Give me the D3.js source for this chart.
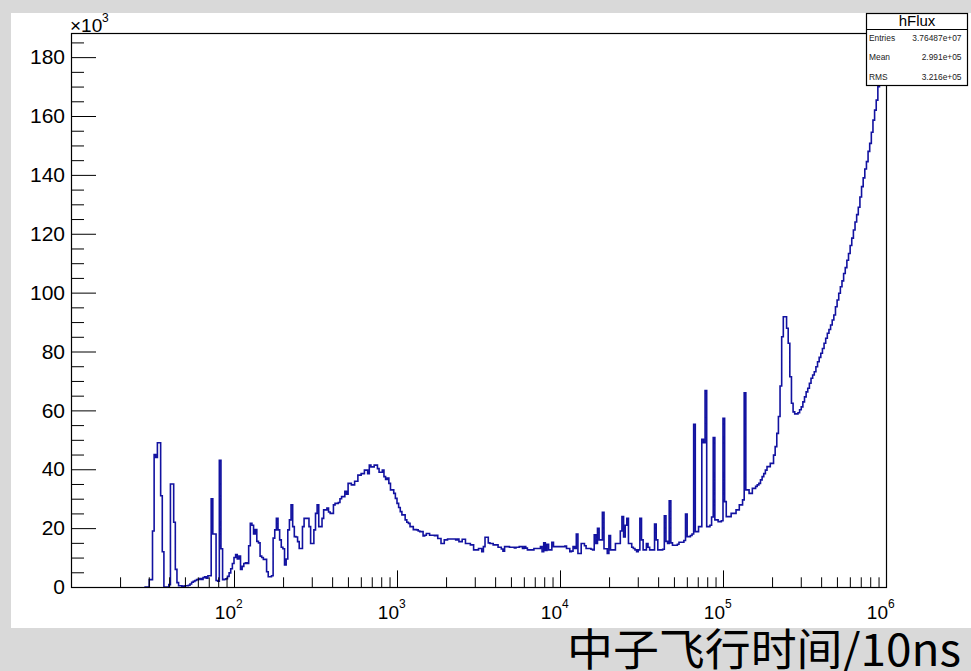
<!DOCTYPE html>
<html>
<head>
<meta charset="utf-8">
<script src="https://cdn.jsdelivr.net/npm/d3@7"></script>
<style>
body { margin: 0; background: #d9d9d9; overflow: hidden; }
svg { display: block; font-family: "Liberation Sans", Arial, sans-serif; }
</style>
</head>
<body>
<svg id="chart" width="971" height="671"></svg>
<script>

/*DATA: hFlux counts (x10^3), 100 log bins per decade from 10 to 1e6*/
var binsPerDecade = 100;
var flux10Start = 45; // first drawn bin of the 10-100 decade

var flux10 = [
  0, 0, 0, 2.5, 2.5,
  19, 45, 44, 49, 49,
  31, 12, 0, 0, 0,
  0.8, 35, 35, 22, 6,
  1.5, 0.4, 0.4, 0.3, 0.3,
  0.4, 0.4, 0.6, 1.0, 1.6,
  1.9, 2.2, 2.5, 2.6, 2.9,
  2.6, 3.2, 3.5, 3.0, 3.8,
  3.8, 30, 18, 18, 2.2,
  2, 43, 13, 2.5, 2.6,
  2.8, 3.6, 4.8, 6.2, 8
];
var flux100 = [
  10, 11, 9.5, 10.5, 6, 7, 8, 8.2, 8, 14,
  21.6, 21, 18, 19.5, 15.5, 15, 10.5, 10, 9.4, 9.4,
  5.2, 3.5, 3.5, 3.8, 16.6, 19.4, 23.3, 19.4, 16, 13.5,
  13, 7.5, 9.5, 19.4, 22.8, 27.9, 20.5, 17.1, 17, 15.4,
  13.1, 13.1, 20.5, 23.3, 23.3, 23.3, 20.5, 14.8, 14.8, 19.4,
  25, 27.9, 20.5, 20.5, 23.3, 26.2, 26.2, 26.8, 25.5, 25,
  25, 27.9, 28.4, 28.4, 28.7, 30, 30.7, 30.7, 32.5, 31.5,
  35.2, 35.2, 34.7, 34.7, 35.9, 35.9, 38, 38, 38.5, 38.5,
  39.7, 39.7, 38.5, 41.4, 40.8, 40.8, 41.4, 41.4, 40.2, 39,
  39, 39.7, 37.5, 36.5, 37, 35.2, 33, 33, 31.8, 30.1
];
var flux1k = [
  28.4, 27, 25.6, 24.5, 24.5, 22.8, 22, 21.6, 20.5, 20.5,
  19.5, 19.5, 19.4, 19, 18.8, 18.8, 17.3, 17.6, 18.2, 18.2,
  17.6, 17.6, 17.6, 17.4, 17.6, 16.5, 16.5, 14.8, 14.8, 16,
  16, 16.3, 16.3, 16.3, 16.3, 16.3, 16, 16.3, 15.4, 15.4,
  16.2, 16.2, 14.8, 14.8, 14.8, 14.3, 14.3, 12.6, 12.6, 12.6,
  13.1, 13.1, 12, 13.7, 16.9, 16.9, 15, 14.8, 14.8, 14.3,
  14.3, 14.3, 13.5, 13.5, 12.9, 12.2, 13.7, 13.7, 13.7, 13.5,
  13.5, 13.5, 13.3, 13.5, 13.5, 13.7, 13.7, 13.1, 13.7, 13.2,
  12.6, 12.6, 12.6, 12.6, 13.1, 13.1, 13.1, 13.1, 13.7, 12,
  15, 12.4, 14.5, 12.6, 12.6, 15.2, 13.7, 13.7, 13.7, 13.7
];
var flux10k = [
  13.7, 13.7, 13.7, 13.9, 13.1, 13.1, 12, 12.2, 13.7, 13.1,
  18, 11.4, 11.4, 14.8, 14.8, 14, 13.1, 13.1, 13.1, 12.8,
  12.6, 17.7, 14.8, 19.9, 16, 16, 25.4, 13, 13, 11.4,
  17.5, 12.6, 12.6, 12.6, 14.8, 14.8, 14.8, 19, 23.9, 17,
  21, 23.3, 14.8, 14.8, 13.5, 13.1, 12.6, 12, 12.6, 23.3,
  16, 12.6, 12.6, 14.8, 13.5, 12.6, 12.6, 12.6, 21.4, 16,
  12.6, 12.6, 12.6, 12.8, 24.2, 15.5, 14.8, 29.3, 15, 14.2,
  14.2, 14.2, 14.5, 15.2, 15.2, 15.2, 15.8, 24.8, 17.1, 17.1,
  17.5, 18, 55.3, 18.8, 18.8, 20.5, 20.5, 50.2, 49, 66.7,
  20.5, 20.5, 21, 23.8, 50.8, 22.8, 22.8, 22.2, 22.2, 22.5
];
var flux100k = [
  57.3, 29, 23.9, 23.9, 23.9, 25, 25, 25, 26.2, 26.2,
  27.9, 27.9, 29.6, 66, 33, 33, 31.8, 31.8, 33.5, 33.5,
  34.2, 34.7, 35.2, 36.4, 37.5, 38.5, 39.7, 40.9, 40.9, 42,
  42, 44.8, 47.7, 52.2, 57.9, 68.3, 85, 91.8, 91.8, 87.9,
  82.8, 71.4, 62.4, 59.5, 58.8, 58.8, 59.2, 60.2, 61.2, 62.9,
  64.6, 66.3, 67.5, 69.2, 70.9, 72, 73.1, 74.8, 76.5, 78,
  79.4, 81, 82.8, 84.5, 86.2, 87.5, 89, 90.7, 92.4, 95.2,
  97.5, 99.8, 102, 104, 106.5, 108.5, 111, 113.3, 116, 118.5,
  121.3, 124, 126.5, 129, 132.5, 136, 139, 142, 144.5, 148,
  150.7, 154.5, 158.6, 162, 165.4, 170, 174, 178, 182, 186
];

var yMajor = [0, 20, 40, 60, 80, 100, 120, 140, 160, 180];
var xDecades = [100, 1000, 10000, 100000, 1000000];
var xExponents = ["2", "3", "4", "5", "6"];
var stats = [
  ["Entries", "3.76487e+07"],
  ["Mean", "2.991e+05"],
  ["RMS", "3.216e+05"]
];

// bins: [low edge, count]
function buildBins(){
  var bins = [];
  var decades = [flux10, flux100, flux1k, flux10k, flux100k];
  decades.forEach(function(arr, d){
    var start = d === 0 ? flux10Start : 0;
    arr.forEach(function(c, j){
      var k = d * binsPerDecade + start + j;
      bins.push({lo: Math.pow(10, 1 + k / binsPerDecade), c: c});
    });
  });
  return bins;
}

var svg = d3.select("#chart");

// white canvas
svg.append("rect")
  .attr("x", 11).attr("y", 13)
  .attr("width", 960).attr("height", 615)
  .attr("fill", "#fff");

var frame = {left: 71, right: 886, top: 33, bottom: 587};

var x = d3.scaleLog().domain([10, 1e6]).range([frame.left, frame.right]);
var y = d3.scaleLinear().domain([0, 188.2]).range([frame.bottom, frame.top]);

svg.append("clipPath").attr("id", "frame-clip")
  .append("rect")
  .attr("x", frame.left).attr("y", frame.top)
  .attr("width", frame.right - frame.left).attr("height", frame.bottom - frame.top);

// histogram outline
var bins = buildBins();
var pts = [{lo: bins[0].lo, c: 0}].concat(bins);
pts.push({lo: 1e6, c: bins[bins.length - 1].c});

var line = d3.line()
  .x(function(d){ return x(d.lo); })
  .y(function(d){ return y(d.c); })
  .curve(d3.curveStepAfter);

svg.append("path")
  .datum(pts)
  .attr("clip-path", "url(#frame-clip)")
  .attr("d", line)
  .attr("fill", "none")
  .attr("stroke", "#1212a0")
  .attr("stroke-width", 1.6);

// y axis ticks (inward, ROOT style)
var yMinor = d3.range(5, 188, 5).filter(function(v){ return v % 20 !== 0; });

var yMajorAxis = svg.append("g")
  .attr("transform", "translate(" + frame.left + ",0)")
  .call(d3.axisLeft(y).tickValues(yMajor).tickSize(-25).tickPadding(6).tickFormat(d3.format("d")));
yMajorAxis.select(".domain").remove();
yMajorAxis.attr("font-size", 21).attr("font-family", "Liberation Sans, Arial, sans-serif");
yMajorAxis.selectAll("text").attr("fill", "#000");

var yMinorAxis = svg.append("g")
  .attr("transform", "translate(" + frame.left + ",0)")
  .call(d3.axisLeft(y).tickValues(yMinor).tickSize(-13).tickFormat(""));
yMinorAxis.select(".domain").remove();

// x axis ticks
var xMinor = [];
[10, 100, 1000, 10000, 100000].forEach(function(base){
  for (var m = 2; m <= 9; m++) xMinor.push(base * m);
});

var xMajorAxis = svg.append("g")
  .attr("transform", "translate(0," + frame.bottom + ")")
  .call(d3.axisBottom(x).tickValues(xDecades).tickSize(-16.6).tickFormat(""));
xMajorAxis.select(".domain").remove();

var xMinorAxis = svg.append("g")
  .attr("transform", "translate(0," + frame.bottom + ")")
  .call(d3.axisBottom(x).tickValues(xMinor).tickSize(-9.7).tickFormat(""));
xMinorAxis.select(".domain").remove();

svg.selectAll(".tick line").attr("stroke", "#000").attr("stroke-width", 1);

// x labels 10^n
xDecades.forEach(function(v, i){
  var px = x(v);
  svg.append("text")
    .attr("x", px + 2).attr("y", 619)
    .attr("text-anchor", "end")
    .attr("font-size", 19)
    .text("10");
  svg.append("text")
    .attr("x", px + 2).attr("y", 608)
    .attr("font-size", 12)
    .text(xExponents[i]);
});

// frame
svg.append("rect")
  .attr("x", frame.left + 0.5).attr("y", frame.top + 0.5)
  .attr("width", frame.right - frame.left).attr("height", frame.bottom - frame.top)
  .attr("fill", "none")
  .attr("stroke", "#000")
  .attr("stroke-width", 1.2);

// x10^3 multiplier
svg.append("text")
  .attr("x", 70).attr("y", 31.5)
  .attr("font-size", 19)
  .text("\u00d710");
svg.append("text")
  .attr("x", 102).attr("y", 21.5)
  .attr("font-size", 12)
  .text("3");

// stats box
var box = svg.append("g");
box.append("rect")
  .attr("x", 866.5).attr("y", 13.5)
  .attr("width", 101).attr("height", 72)
  .attr("fill", "#fff")
  .attr("stroke", "#000")
  .attr("stroke-width", 1.2);
box.append("line")
  .attr("x1", 866.5).attr("x2", 967.5)
  .attr("y1", 29.5).attr("y2", 29.5)
  .attr("stroke", "#000").attr("stroke-width", 1);
box.append("text")
  .attr("x", 917).attr("y", 26)
  .attr("text-anchor", "middle")
  .attr("font-size", 15)
  .text("hFlux");

stats.forEach(function(s, i){
  var yy = 40.5 + i * 19.7;
  box.append("text")
    .attr("x", 869).attr("y", yy)
    .attr("font-size", 8.4)
    .attr("fill", "#222")
    .text(s[0]);
  box.append("text")
    .attr("x", 961.5).attr("y", yy)
    .attr("text-anchor", "end")
    .attr("font-size", 8.4)
    .attr("fill", "#222")
    .text(s[1]);
});

// caption below the canvas
svg.append("text")
  .attr("x", 567).attr("y", 666)
  .attr("font-family", "Noto Sans CJK SC, sans-serif")
  .attr("font-size", 44)
  .attr("textLength", 394)
  .attr("lengthAdjust", "spacingAndGlyphs")
  .attr("fill", "#000")
  .text("中子飞行时间/10ns");

</script>
</body>
</html>
